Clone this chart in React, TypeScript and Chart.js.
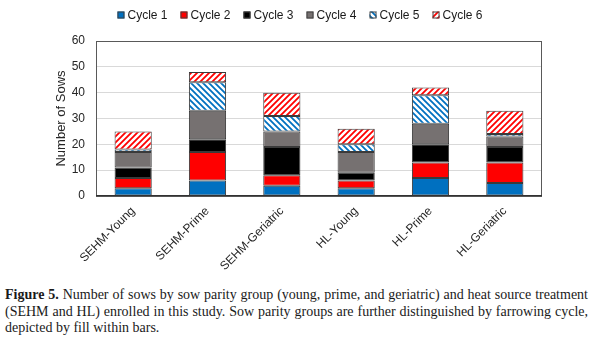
import React, { useEffect, useRef } from "react";
import { Chart, registerables } from "chart.js";

Chart.register(...registerables);

const categories = ["SEHM-Young", "SEHM-Prime", "SEHM-Geriatric", "HL-Young", "HL-Prime", "HL-Geriatric"];
const seriesNames = ["Cycle 1", "Cycle 2", "Cycle 3", "Cycle 4", "Cycle 5", "Cycle 6"];
const cycle1 = [3, 6, 4, 3, 7, 5];
const cycle2 = [4, 11, 4, 3, 6, 8];
const cycle3 = [4, 5, 11, 3, 7, 6];
const cycle4 = [6, 11, 6, 8, 8, 4];
const cycle5 = [1, 11, 6, 3, 11, 1];
const cycle6 = [7, 4, 9, 6, 3, 9];
const yTicks = [0, 10, 20, 30, 40, 50, 60];

function makeHatch(color: string, forward: boolean): CanvasPattern | string {
  const s = 6;
  const c = document.createElement("canvas");
  c.width = s;
  c.height = s;
  const g = c.getContext("2d");
  if (!g) return color;
  g.fillStyle = "#ffffff";
  g.fillRect(0, 0, s, s);
  g.strokeStyle = color;
  g.lineWidth = 1.8;
  g.beginPath();
  if (forward) {
    g.moveTo(-1, s + 1); g.lineTo(s + 1, -1);
    g.moveTo(-1, 1); g.lineTo(1, -1);
    g.moveTo(s - 1, s + 1); g.lineTo(s + 1, s - 1);
  } else {
    g.moveTo(-1, -1); g.lineTo(s + 1, s + 1);
    g.moveTo(s - 1, -1); g.lineTo(s + 1, 1);
    g.moveTo(-1, s - 1); g.lineTo(1, s + 1);
  }
  g.stroke();
  const p = g.createPattern(c, "repeat");
  return p || color;
}

const SANS = '"Liberation Sans", Arial, sans-serif';

export default function App() {
  const ref = useRef<HTMLCanvasElement | null>(null);

  useEffect(() => {
    document.body.style.margin = "0";
    const canvas = ref.current;
    if (!canvas) return;
    const fills = [
      "#0070C0",
      "#FF0000",
      "#000000",
      "#767171",
      makeHatch("#0070C0", false),
      makeHatch("#FF0000", true),
    ];
    const values = [cycle1, cycle2, cycle3, cycle4, cycle5, cycle6];

    const framePlugin = {
      id: "frame",
      afterDraw(chart: any) {
        const { ctx, chartArea: a } = chart;
        ctx.save();
        ctx.strokeStyle = "#595959";
        ctx.lineWidth = 1;
        ctx.strokeRect(a.left + 0.5, a.top + 0.5, a.right - a.left - 1, a.bottom - a.top - 1);
        ctx.strokeStyle = "#262626";
        ctx.lineWidth = 1.6;
        ctx.beginPath();
        ctx.moveTo(a.left, a.bottom);
        ctx.lineTo(a.right, a.bottom);
        ctx.stroke();

        // legend
        ctx.font = "12px " + SANS;
        ctx.textBaseline = "middle";
        const box = 7;
        const gap = 3;
        const spacing = 13;
        const widths = chart.data.datasets.map((d: any) => box + gap + ctx.measureText(d.label).width);
        const total = widths.reduce((s: number, w: number) => s + w, 0) + spacing * (widths.length - 1);
        let x = chart.width / 2 - total / 2;
        const y = 15;
        chart.data.datasets.forEach((d: any, i: number) => {
          ctx.fillStyle = d.backgroundColor;
          ctx.fillRect(x, y - box / 2, box, box);
          ctx.strokeStyle = "#404040";
          ctx.lineWidth = 1;
          ctx.strokeRect(x + 0.5, y - box / 2 + 0.5, box - 1, box - 1);
          ctx.fillStyle = "#1a1a1a";
          ctx.textAlign = "left";
          ctx.fillText(d.label, x + box + gap, y + 0.5);
          x += widths[i] + spacing;
        });
        ctx.restore();
      },
    };

    const chart = new Chart(canvas, {
      type: "bar",
      data: {
        labels: categories,
        datasets: seriesNames.map((name, i) => ({
          label: name,
          data: values[i],
          backgroundColor: fills[i] as any,
          borderColor: "#3a3a3a",
          borderWidth: 1,
          borderSkipped: false,
          barPercentage: 0.5,
          categoryPercentage: 1.0,
        })),
      },
      options: {
        responsive: false,
        animation: false,
        layout: { padding: { left: 50, right: 58, top: 41, bottom: 0 } },
        plugins: {
          legend: { display: false },
          tooltip: { enabled: false },
        },
        scales: {
          x: {
            stacked: true,
            grid: { display: false, drawTicks: false },
            border: { display: false },
            ticks: {
              minRotation: 45,
              maxRotation: 45,
              padding: 8,
              color: "#262626",
              font: { size: 12, family: SANS },
            },
            afterFit: (s: any) => {
              s.height = 76;
            },
          },
          y: {
            stacked: true,
            min: 0,
            max: 60,
            afterBuildTicks: (s: any) => {
              s.ticks = yTicks.map((v) => ({ value: v }));
            },
            grid: { color: "#d9d9d9", lineWidth: 1, drawTicks: false },
            border: { display: false },
            ticks: {
              padding: 11,
              color: "#262626",
              font: { size: 12, family: SANS },
            },
            title: {
              display: true,
              text: "Number of Sows",
              color: "#262626",
              font: { size: 13, family: SANS },
              padding: { top: 4, bottom: 0 },
            },
            afterFit: (s: any) => {
              s.width = 46;
            },
          },
        },
      },
      plugins: [framePlugin],
    });
    return () => chart.destroy();
  }, []);

  const lineStyle: React.CSSProperties = {
    textAlign: "justify",
    textAlignLast: "justify" as any,
    whiteSpace: "nowrap",
  };

  return (
    <div style={{ position: "absolute", left: 0, top: 0, width: 600, height: 346, background: "#fff", overflow: "hidden" }}>
      <canvas ref={ref} width={600} height={272} style={{ display: "block", width: 600, height: 272 }} />
      <div
        style={{
          position: "absolute",
          left: 5,
          top: 287,
          width: 583,
          fontFamily: '"Liberation Serif", "DejaVu Serif", serif',
          fontSize: 14,
          lineHeight: "16.5px",
          color: "#1a1a1a",
        }}
      >
        <div style={lineStyle}>
          <b>Figure 5.</b> Number of sows by sow parity group (young, prime, and geriatric) and heat source treatment
        </div>
        <div style={lineStyle}>
          (SEHM and HL) enrolled in this study. Sow parity groups are further distinguished by farrowing cycle,
        </div>
        <div>depicted by fill within bars.</div>
      </div>
    </div>
  );
}
